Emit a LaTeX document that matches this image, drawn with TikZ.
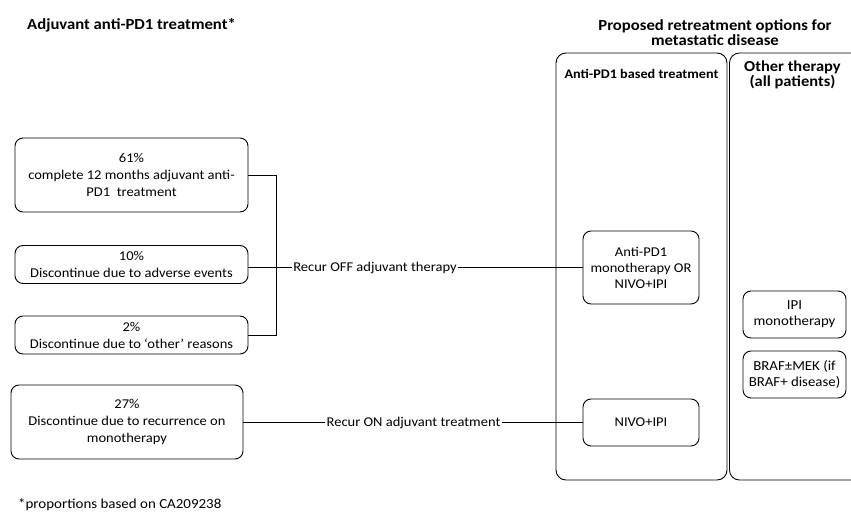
\documentclass[tikz,border=0pt]{standalone}
\usepackage{fontspec}
\setmainfont{Carlito}[FakeStretch=1.08]
\begin{document}
\begin{tikzpicture}[x=1bp,y=-1bp,
  txt/.style={font=\fontsize{13.5}{17}\selectfont},
  optbox/.style={draw, line width=0.9bp, rounded corners=8bp, align=center, inner sep=0pt, txt},
  panel/.style={draw, line width=0.9bp, rounded corners=10bp, inner sep=0pt},
  conn/.style={line width=0.8bp},
  thick conn/.style={line width=1.4bp},
  lbl/.style={inner sep=1bp, txt}]
\useasboundingbox (0,0) rectangle (851,514);
\clip (0,0) rectangle (851,514);
% titles
\node[anchor=west, font=\fontsize{15.5}{17}\selectfont\bfseries, inner sep=0pt] (t1) at (27,25) {Adjuvant anti-PD1 treatment*};
\node[align=center, font=\fontsize{15.5}{15.5}\selectfont\bfseries, inner sep=0pt] (t2) at (715,32.5) {Proposed retreatment options for\\metastatic disease};
% panels
\node[panel, minimum width=171bp, minimum height=427bp] (p1) at (641.5,266.5) {};
\node[panel, minimum width=160bp, minimum height=427bp, anchor=west] (p2) at (729,266.5) {};
\node[font=\fontsize{13.2}{15}\selectfont\bfseries, inner sep=0pt] (h1) at (641.5,74) {Anti-PD1 based treatment};
\node[align=center, font=\fontsize{15.3}{15}\selectfont\bfseries, inner sep=0pt] (h2) at (792.5,74.5) {Other therapy\\(all patients)};
% left boxes
\node[optbox, minimum width=233bp, minimum height=74bp] (A) at (131.5,175) {61\%\\complete 12 months adjuvant anti-\\PD1\ \ treatment};
\node[optbox, minimum width=233bp, minimum height=38bp] (B) at (131.5,264.5) {10\%\\Discontinue due to adverse events};
\node[optbox, minimum width=233bp, minimum height=38bp] (C) at (131.5,335) {2\%\\Discontinue due to `other' reasons};
\node[optbox, minimum width=232bp, minimum height=74bp] (D) at (127,422) {27\%\\Discontinue due to recurrence on\\monotherapy};
% right boxes
\node[optbox, font=\fontsize{13.5}{16}\selectfont, minimum width=116bp, minimum height=73bp] (E) at (641,267.5) {Anti-PD1\\monotherapy OR\\NIVO+IPI};
\node[optbox, minimum width=116bp, minimum height=47bp] (F) at (641,422.5) {NIVO+IPI};
\node[optbox, font=\fontsize{13.8}{16}\selectfont, minimum width=103bp, minimum height=47bp] (G) at (794.5,314.5) {IPI\\monotherapy};
\node[optbox, font=\fontsize{13.8}{16}\selectfont, minimum width=103bp, minimum height=47bp] (H) at (794.5,374.5) {BRAF±MEK (if\\BRAF+ disease)};
% labels
\node[lbl] (off) at (375,267.5) {Recur OFF adjuvant therapy};
\node[lbl] (on) at (413.5,422.5) {Recur ON adjuvant treatment};
% connectors
\coordinate (j) at (276,267.5);
\draw[conn] (A.east) -| (j);
\draw[conn] (C.east) -| (j);
\draw[conn] (B.east |- j) -- (j) -- (off.west);
\draw[thick conn] (off.east) -- (E.west);
\draw[conn] (D.east |- on) -- (on.west);
\draw[conn] (on.east) -- (F.west);
% footnote
\node[anchor=west, inner sep=0pt, font=\fontsize{13.9}{16}\selectfont] (fn) at (18,505) {*proportions based on CA209238};
\end{tikzpicture}
\end{document}
